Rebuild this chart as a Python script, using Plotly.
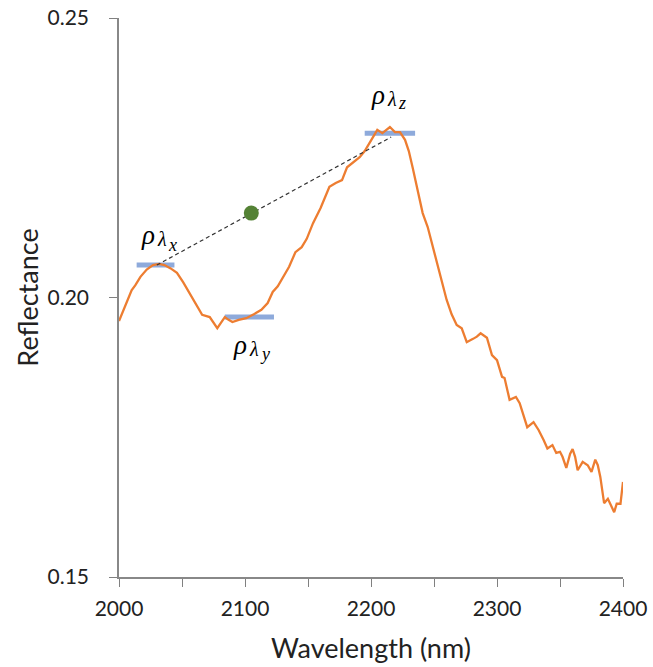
import plotly.graph_objects as go

# ---- data ----
wavelength = [2000, 2005, 2010, 2013, 2017, 2022, 2027, 2032, 2036, 2041, 2046, 2051, 2056, 2061, 2066,
              2072, 2075, 2078, 2081, 2084, 2087, 2090, 2095, 2101, 2107, 2113, 2118, 2122, 2126, 2130,
              2135, 2140, 2145, 2149, 2154, 2160, 2167, 2172, 2177, 2181, 2186, 2191, 2195, 2199, 2205,
              2209, 2212, 2215, 2219, 2223, 2227, 2230, 2233, 2237, 2241, 2245, 2248, 2252, 2256, 2260,
              2264, 2268, 2272, 2276, 2281, 2284, 2287, 2292, 2296, 2300, 2304, 2306, 2310, 2313, 2315,
              2318, 2321, 2324, 2329, 2333, 2337, 2340, 2344, 2347, 2350, 2352, 2355, 2358, 2360, 2362,
              2364, 2368, 2372, 2375, 2378, 2380, 2382, 2385, 2388, 2390, 2393, 2395, 2398, 2400]
reflectance = [0.1958, 0.1985, 0.2013, 0.2022, 0.2037, 0.2050, 0.2058, 0.2060, 0.2058, 0.2052, 0.2044,
               0.2027, 0.2008, 0.1990, 0.1969, 0.1965, 0.1955, 0.1945, 0.1955, 0.1965, 0.1960, 0.1956,
               0.1960, 0.1963, 0.1970, 0.1978, 0.1990, 0.2010, 0.2020, 0.2035, 0.2055, 0.2081, 0.2090,
               0.2105, 0.2133, 0.2160, 0.2198, 0.2205, 0.2210, 0.2233, 0.2242, 0.2251, 0.2262, 0.2278,
               0.2300, 0.2294, 0.2300, 0.2305, 0.2296, 0.2296, 0.2282, 0.2262, 0.2233, 0.2190, 0.2151,
               0.2126, 0.2100, 0.2067, 0.2030, 0.1996, 0.1970, 0.1951, 0.1945, 0.1920, 0.1926, 0.1930,
               0.1936, 0.1928, 0.1897, 0.1888, 0.1858, 0.1856, 0.1817, 0.1820, 0.1822, 0.1811, 0.1790,
               0.1768, 0.1777, 0.1763, 0.1745, 0.1730, 0.1736, 0.1722, 0.1724, 0.1715, 0.1695, 0.1720,
               0.1729, 0.1715, 0.1691, 0.1706, 0.1700, 0.1688, 0.1710, 0.1700, 0.1679, 0.1632, 0.1640,
               0.1630, 0.1616, 0.1631, 0.1631, 0.1670]

# shoulder markers (start, end, level)
bar_names = ["x", "y", "z"]
bar_start = [2014, 2084, 2195]
bar_end = [2044, 2123, 2235]
bar_level = [0.2058, 0.1965, 0.2294]

# continuum line between shoulders and interpolated point
cont_x = [2030, 2216]
cont_y = [0.2058, 0.2287]
point_x = [2105]
point_y = [0.2151]

x_tickvals = [2000, 2050, 2100, 2150, 2200, 2250, 2300, 2350, 2400]
x_ticktext = ["2000", "", "2100", "", "2200", "", "2300", "", "2400"]
y_tickvals = [0.15, 0.20, 0.25]
y_ticktext = ["0.15", "0.20", "0.25"]

fig = go.Figure()

for s, e, v in zip(bar_start, bar_end, bar_level):
    fig.add_trace(go.Scatter(x=[s, e], y=[v, v], mode="lines",
                             line=dict(color="#8EAADB", width=5), hoverinfo="skip"))

fig.add_trace(go.Scatter(x=wavelength, y=reflectance, mode="lines",
                         line=dict(color="#ED7D31", width=2.3)))

fig.add_trace(go.Scatter(x=cont_x, y=cont_y, mode="lines",
                         line=dict(color="#333333", width=1.2, dash="4px,3px")))

fig.add_trace(go.Scatter(x=point_x, y=point_y, mode="markers",
                         marker=dict(color="#548235", size=15, line=dict(width=0))))

# labels rho_lambda_{x,y,z}  (positions in pixels of the plot, converted to data coords)
def px2x(px):
    return 2000 + (px - 119) / 1.26

def py2y(py):
    return 0.25 - (py - 18) / 5590.0

label_pos = {"x": (139, 235), "y": (231, 345), "z": (369, 95)}
sub_dy = {"x": 10, "y": 9, "z": 8}
serif = "Liberation Serif"
for name in bar_names:
    lx, ly = label_pos[name]
    fig.add_annotation(x=px2x(lx), y=py2y(ly), xref="x", yref="y", text="<i>ρ</i>",
                       showarrow=False, xanchor="left", yanchor="middle",
                       font=dict(family=serif, size=27, color="#000"))
    fig.add_annotation(x=px2x(lx + 16), y=py2y(ly + 4), xref="x", yref="y", text="<i>λ</i>",
                       showarrow=False, xanchor="left", yanchor="middle",
                       font=dict(family=serif, size=20, color="#000"))
    fig.add_annotation(x=px2x(lx + 27), y=py2y(ly + sub_dy[name]), xref="x", yref="y",
                       text="<i>" + name + "</i>",
                       showarrow=False, xanchor="left", yanchor="middle",
                       font=dict(family=serif, size=18, color="#000"))

tick_font = dict(family="Lato", size=21, color="#222")
title_font = dict(family="Lato", size=27, color="#222")
fig.update_layout(
    width=653, height=667,
    margin=dict(l=119, r=30, t=18, b=90, autoexpand=False),
    paper_bgcolor="white", plot_bgcolor="white",
    showlegend=False,
    font=tick_font,
    xaxis=dict(range=[2000, 2400], tickvals=x_tickvals, ticktext=x_ticktext,
               ticks="outside", ticklen=8, tickcolor="#808080", tickwidth=1.3,
               showline=True, linecolor="#888888", linewidth=1.5, automargin=False,
               showgrid=False, zeroline=False, tickfont=tick_font, ticklabelstandoff=4,
               title=dict(text="Wavelength (nm)", font=title_font, standoff=20)),
    yaxis=dict(range=[0.15, 0.25], tickvals=y_tickvals, ticktext=y_ticktext,
               ticks="outside", ticklen=8, tickcolor="#808080", tickwidth=1.3,
               showline=True, linecolor="#888888", linewidth=1.5, automargin=False,
               showgrid=False, zeroline=False, tickfont=tick_font, ticklabelstandoff=16,
               title=dict(text="Reflectance", font=title_font, standoff=1)),
)

fig.write_html("out.html", config={"displayModeBar": False},
               post_script="document.body.style.margin='0';")
